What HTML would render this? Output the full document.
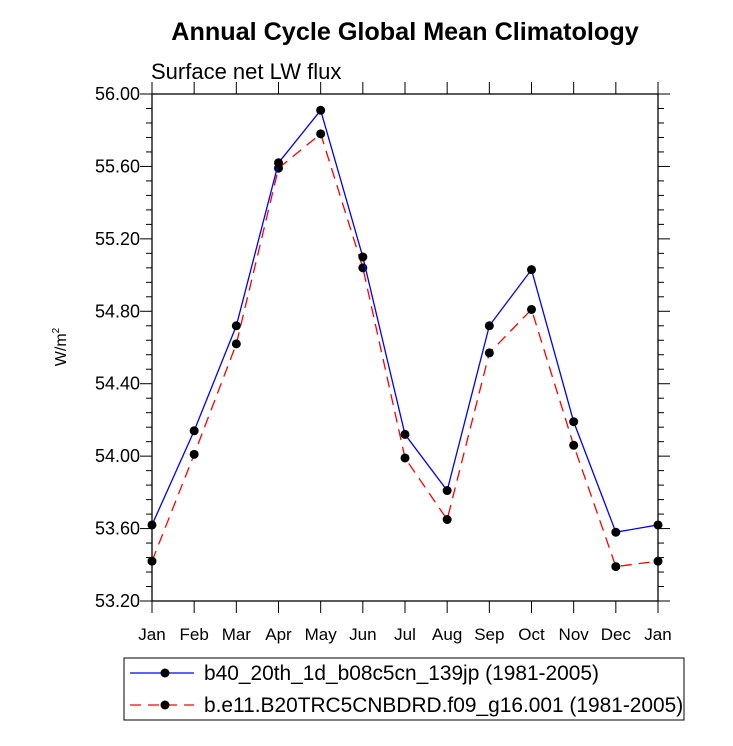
<!DOCTYPE html>
<html><head><meta charset="utf-8"><style>
body{margin:0;background:#fff}
svg{display:block;font-family:"Liberation Sans",sans-serif}
</style></head><body>
<svg id="chart" width="733" height="746" viewBox="0 0 733 746">
<text x="405" y="40" text-anchor="middle" font-size="25.2" font-weight="bold">Annual Cycle Global Mean Climatology</text>
<text x="151" y="79" font-size="22">Surface net LW flux</text>
<text transform="translate(66,347) rotate(-90)" text-anchor="middle" font-size="16">W/m<tspan dy="-7" font-size="10">2</tspan></text>
<g id="axes"></g>
<g id="series"></g>
<g>
<rect x="124" y="658" width="560" height="62" fill="none" stroke="#000" stroke-width="1"/>
<line x1="130" y1="673" x2="194" y2="673" stroke="#0000ff" stroke-width="1.3"/>
<circle cx="165" cy="673" r="4.5" fill="#000"/>
<text x="204" y="680" font-size="20.9">b40_20th_1d_b08c5cn_139jp (1981-2005)</text>
<line x1="130" y1="705" x2="194" y2="705" stroke="#ff0000" stroke-width="1.3" stroke-dasharray="11,7"/>
<circle cx="165" cy="705" r="4.5" fill="#000"/>
<text x="204" y="712" font-size="20.9">b.e11.B20TRC5CNBDRD.f09_g16.001 (1981-2005)</text>
</g>
</svg>
<script>
const months=["Jan","Feb","Mar","Apr","May","Jun","Jul","Aug","Sep","Oct","Nov","Dec","Jan"];
const seriesBlue=[53.62,54.14,54.72,55.62,55.91,55.10,54.12,53.81,54.72,55.03,54.19,53.58,53.62];
const seriesRed=[53.42,54.01,54.62,55.59,55.78,55.04,53.99,53.65,54.57,54.81,54.06,53.39,53.42];
const yTicks=[53.2,53.6,54.0,54.4,54.8,55.2,55.6,56.0];
const X0=152,X1=658,Y0=94,Y1=601,YMIN=53.2,YMAX=56.0;
function xs(i){return X0+i*(X1-X0)/(months.length-1);}
function ys(v){return Y1-(v-YMIN)/(YMAX-YMIN)*(Y1-Y0);}
const NS="http://www.w3.org/2000/svg";
function mk(t,a,p){const e=document.createElementNS(NS,t);for(const k in a)e.setAttribute(k,a[k]);p.appendChild(e);return e;}
const ax=document.getElementById('axes');
const fr=mk('rect',{x:X0,y:Y0,width:X1-X0,height:Y1-Y0,fill:'none',stroke:'#000','stroke-width':1.3},ax);


months.forEach((m,i)=>{const x=xs(i);
 mk('line',{x1:x,y1:Y1,x2:x,y2:Y1+12,stroke:'#000','stroke-width':1},ax);
 mk('line',{x1:x,y1:Y0,x2:x,y2:Y0-12,stroke:'#000','stroke-width':1},ax);
 const t=mk('text',{x:x,y:Y1+39,'text-anchor':'middle','font-size':17},ax);t.textContent=m;
 
 
});
for(let v=YMIN;v<=YMAX+1e-6;v+=0.08){const y=ys(v);const maj=Math.abs(((v-YMIN)/0.4)-Math.round((v-YMIN)/0.4))<1e-3;const L=maj?12:6;
 mk('line',{x1:X0-L,y1:y,x2:X0,y2:y,stroke:'#000','stroke-width':1},ax);
 mk('line',{x1:X1,y1:y,x2:X1+L,y2:y,stroke:'#000','stroke-width':1},ax);}
yTicks.forEach(v=>{const t=mk('text',{x:X0-12,y:ys(v)+6,'text-anchor':'end','font-size':18},ax);t.textContent=v.toFixed(2);
 
 });
const sg=document.getElementById('series');
function draw(arr,color,dash,name){
 const l=mk('polyline',{points:arr.map((v,i)=>xs(i)+','+ys(v)).join(' '),fill:'none',stroke:color,'stroke-width':1.3,'stroke-dasharray':dash},sg);
 
 
 arr.forEach((v,i)=>{const c=mk('circle',{cx:xs(i),cy:ys(v),r:4.5,fill:'#000'},sg);
  
  });
}
draw(seriesRed,'#ff0000','11,7','red-series');
draw(seriesBlue,'#0000ff','none','blue-series');
</script>
</body></html>
